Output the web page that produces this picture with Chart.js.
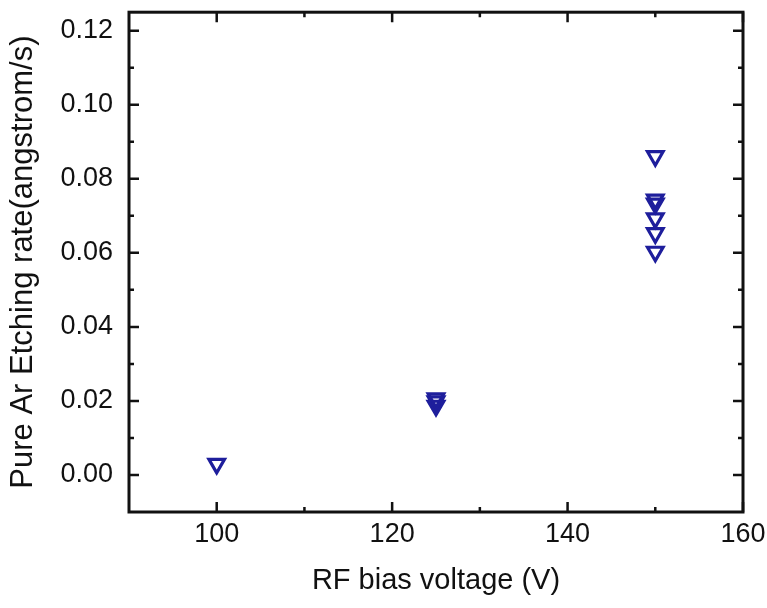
<!DOCTYPE html>
<html>
<head>
<meta charset="utf-8">
<script src="https://cdn.jsdelivr.net/npm/chart.js@4/dist/chart.umd.min.js"></script>
<style>
  html, body { margin: 0; padding: 0; background: #fff; }
  #wrap { width: 767px; height: 608px; position: relative; }
</style>
</head>
<body>
<div id="wrap"><canvas id="c" width="767" height="608"></canvas></div>
<script>
// ---- data ----
const biasVoltage = [100, 125, 125, 125, 150, 150, 150, 150, 150, 150];
const etchRate    = [0.0030, 0.0207, 0.0199, 0.0187, 0.0861, 0.0744, 0.0733, 0.0693, 0.0653, 0.0603];
const xTickValues = [100, 120, 140, 160];
const xMinorTicks = [110, 130, 150];
const yTickValues = [0.00, 0.02, 0.04, 0.06, 0.08, 0.10, 0.12];
const yMinorTicks = [0.01, 0.03, 0.05, 0.07, 0.09, 0.11];
const xTitle = 'RF bias voltage (V)';
const yTitle = 'Pure Ar Etching rate(angstrom/s)';

const FONT = '"Liberation Sans", Arial, Helvetica, sans-serif';
const MARK = '#1e1e9c';

const framePlugin = {
  id: 'frame',
  afterDraw(chart) {
    const { ctx, chartArea: a, scales } = chart;
    const xs = scales.x, ys = scales.y;
    ctx.save();
    ctx.strokeStyle = '#111';
    ctx.lineCap = 'butt';
    ctx.lineWidth = 2.5;
    const major = 10, minor = 5;
    const tickX = (vals, len) => vals.forEach(v => {
      const px = xs.getPixelForValue(v);
      ctx.beginPath();
      ctx.moveTo(px, a.bottom); ctx.lineTo(px, a.bottom - len);
      ctx.moveTo(px, a.top); ctx.lineTo(px, a.top + len);
      ctx.stroke();
    });
    const tickY = (vals, len) => vals.forEach(v => {
      const py = ys.getPixelForValue(v);
      ctx.beginPath();
      ctx.moveTo(a.left, py); ctx.lineTo(a.left + len, py);
      ctx.moveTo(a.right, py); ctx.lineTo(a.right - len, py);
      ctx.stroke();
    });
    tickX(xTickValues, major); tickX(xMinorTicks, minor);
    tickY(yTickValues, major); tickY(yMinorTicks, minor);
    ctx.lineWidth = 3;
    ctx.strokeRect(a.left, a.top, a.right - a.left, a.bottom - a.top);
    ctx.restore();
  }
};

new Chart(document.getElementById('c'), {
  type: 'scatter',
  data: {
    datasets: [{
      data: biasVoltage.map((x, i) => ({ x, y: etchRate[i] })),
      pointStyle: 'triangle',
      rotation: 180,
      pointRadius: 9,
      pointHoverRadius: 9,
      borderWidth: 3.2,
      borderColor: MARK,
      backgroundColor: 'rgba(0,0,0,0)'
    }]
  },
  options: {
    responsive: false,
    animation: false,
    events: [],
    layout: { padding: { top: 5, right: 24, left: 0, bottom: 0 } },
    plugins: { legend: { display: false }, tooltip: { enabled: false } },
    scales: {
      x: {
        type: 'linear', min: 90, max: 160,
        afterBuildTicks: s => { s.ticks = xTickValues.map(v => ({ value: v })); },
        afterFit: s => { s.height = 96; s.paddingLeft = 0; s.paddingRight = 0; },
        grid: { display: false, drawTicks: false },
        border: { display: false },
        ticks: { color: '#111', padding: 6, font: { family: FONT, size: 27 }, maxRotation: 0,
                 callback: v => String(v) },
        title: { display: true, text: xTitle, color: '#111',
                 font: { family: FONT, size: 29 }, padding: { top: 0, bottom: 10 } }
      },
      y: {
        type: 'linear', min: -0.01, max: 0.125,
        afterBuildTicks: s => { s.ticks = yTickValues.map(v => ({ value: v })); },
        afterFit: s => { s.width = 129; s.paddingTop = 0; s.paddingBottom = 0; },
        grid: { display: false, drawTicks: false },
        border: { display: false },
        ticks: { color: '#111', padding: 16, font: { family: FONT, size: 27 },
                 callback: v => Number(v).toFixed(2) },
        title: { display: true, text: yTitle, color: '#111',
                 font: { family: FONT, size: 31 }, padding: { top: 5, bottom: 0 } }
      }
    }
  },
  plugins: [framePlugin]
});
</script>
</body>
</html>
